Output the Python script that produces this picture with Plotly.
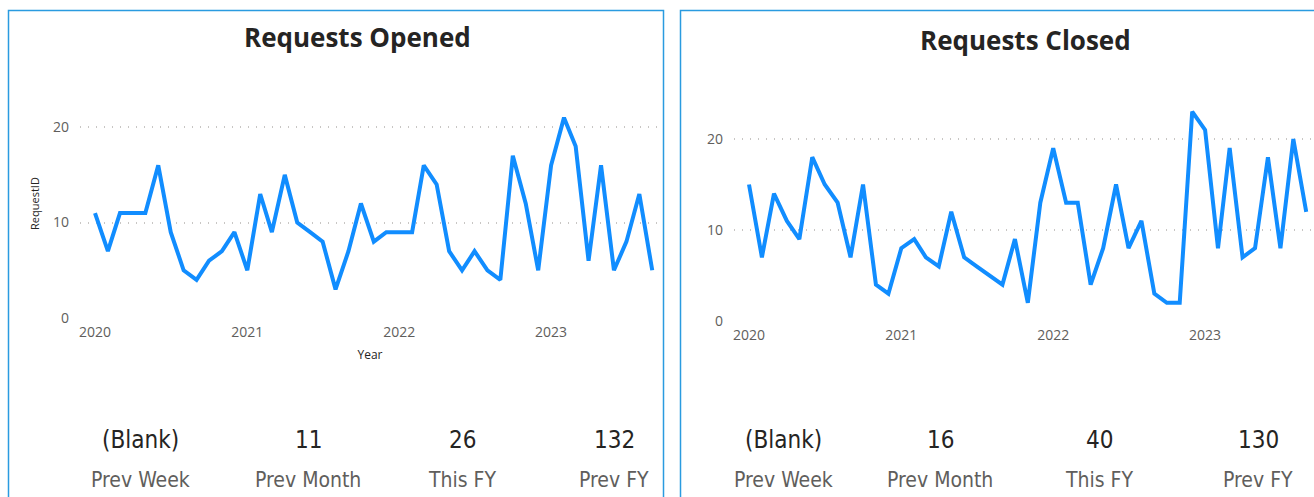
import datetime as dt
import plotly.graph_objects as go

months = [f"{y}-{m:02d}-01" for y in range(2020, 2024) for m in range(1, 13)][:45]

opened = [11, 7, 11, 11, 11, 16, 9, 5, 4, 6, 7, 9,
          5, 13, 9, 15, 10, 9, 8, 3, 7, 12, 8, 9,
          9, 9, 16, 14, 7, 5, 7, 5, 4, 17, 12, 5,
          16, 21, 18, 6, 16, 5, 8, 13, 5]
closed = [15, 7, 14, 11, 9, 18, 15, 13, 7, 15, 4, 3,
          8, 9, 7, 6, 12, 7, 6, 5, 4, 9, 2, 13,
          19, 13, 13, 4, 8, 15, 8, 11, 3, 2, 2, 23,
          21, 8, 19, 7, 8, 18, 8, 20, 12]

tick_vals = ["2020-01-01", "2021-01-01", "2022-01-01", "2023-01-01"]
tick_text = ["2020", "2021", "2022", "2023"]

card_labels = ["Prev Week", "Prev Month", "This FY", "Prev FY"]
opened_cards = ["(Blank)", "11", "26", "132"]
closed_cards = ["(Blank)", "16", "40", "130"]

W, H = 1314, 497
LINE = "#118DFF"
GRAY = "#605E5C"
BORDER = "#2A9BE0"
FONT = "Open Sans, Noto Sans"


def px(x):
    return x / W


def py(y):
    return 1 - y / H


def date_at(px_pos, px_2020, px_per_year=152.0):
    base = dt.datetime(2020, 1, 1)
    days = (px_pos - px_2020) / px_per_year * 365.25
    return (base + dt.timedelta(days=days)).strftime("%Y-%m-%d %H:%M")


fig = go.Figure()
fig.add_trace(go.Scatter(x=months, y=opened, mode="lines", xaxis="x", yaxis="y",
                         line=dict(color=LINE, width=4), showlegend=False))
fig.add_trace(go.Scatter(x=months, y=closed, mode="lines", xaxis="x2", yaxis="y2",
                         line=dict(color=LINE, width=4), showlegend=False))

axis_common = dict(tickfont=dict(family=FONT, size=14, color=GRAY),
                   showline=False, zeroline=False, automargin=False)
grid = dict(showgrid=True, gridcolor="#C8C6C4", griddash="1px,7px", gridwidth=1.5)

fig.update_layout(
    width=W, height=H, margin=dict(l=0, r=0, t=0, b=0, pad=0), autosize=False,
    paper_bgcolor="white", plot_bgcolor="white",
    xaxis=dict(domain=[px(80), px(660)], type="date",
               range=[date_at(80, 95), date_at(660, 95)],
               tickvals=tick_vals, ticktext=tick_text, showgrid=False,
               ticks="", anchor="y", ticklabelstandoff=4,
               title=dict(text="Year", font=dict(family=FONT, size=12, color="#252423"), standoff=10),
               **axis_common),
    yaxis=dict(domain=[py(318), py(89)], range=[0, 24], tickvals=[0, 10, 20],
               anchor="x", ticks="", ticklabelstandoff=10,
               title=dict(text="RequestID", font=dict(family=FONT, size=11, color="#252423"), standoff=11),
               **grid, **axis_common),
    xaxis2=dict(domain=[px(734), px(1314)], type="date",
                range=[date_at(734, 749), date_at(1314, 749)],
                tickvals=tick_vals, ticktext=tick_text, showgrid=False,
                ticks="", anchor="y2", ticklabelstandoff=4, **axis_common),
    yaxis2=dict(domain=[py(321), py(93.5)], range=[0, 25], tickvals=[0, 10, 20],
                anchor="x2", ticks="", ticklabelstandoff=10, **grid, **axis_common),
)

# panel borders
fig.add_shape(type="rect", xref="paper", yref="paper",
              x0=px(8.5), x1=px(663.5), y0=py(510), y1=py(10.5),
              line=dict(color=BORDER, width=1.5), fillcolor="rgba(0,0,0,0)", layer="below")
fig.add_shape(type="rect", xref="paper", yref="paper",
              x0=px(680.5), x1=px(1330), y0=py(510), y1=py(10.5),
              line=dict(color=BORDER, width=1.5), fillcolor="rgba(0,0,0,0)", layer="below")

# titles
fig.add_annotation(text="<b>Requests Opened</b>", xref="paper", yref="paper",
                   x=px(357), y=py(37), showarrow=False, xanchor="center", yanchor="middle",
                   font=dict(family=FONT, size=26, color="#252423"))
fig.add_annotation(text="<b>Requests Closed</b>", xref="paper", yref="paper",
                   x=px(1025), y=py(40), showarrow=False, xanchor="center", yanchor="middle",
                   font=dict(family=FONT, size=26, color="#252423"))

# cards
card_font = "DejaVu Sans Condensed, Roboto, Noto Sans"
left_x = [140, 308, 462, 614]
right_x = [783, 940, 1099, 1258]
for xs, vals in ((left_x, opened_cards), (right_x, closed_cards)):
    for xc, v, lab in zip(xs, vals, card_labels):
        fig.add_annotation(text=v, xref="paper", yref="paper", x=px(xc), y=py(440),
                           showarrow=False, xanchor="center", yanchor="middle",
                           font=dict(family=card_font, size=24, color="#252423"))
        fig.add_annotation(text=lab, xref="paper", yref="paper", x=px(xc), y=py(480),
                           showarrow=False, xanchor="center", yanchor="middle",
                           font=dict(family=card_font, size=21, color=GRAY))

fig.write_html("out.html")
